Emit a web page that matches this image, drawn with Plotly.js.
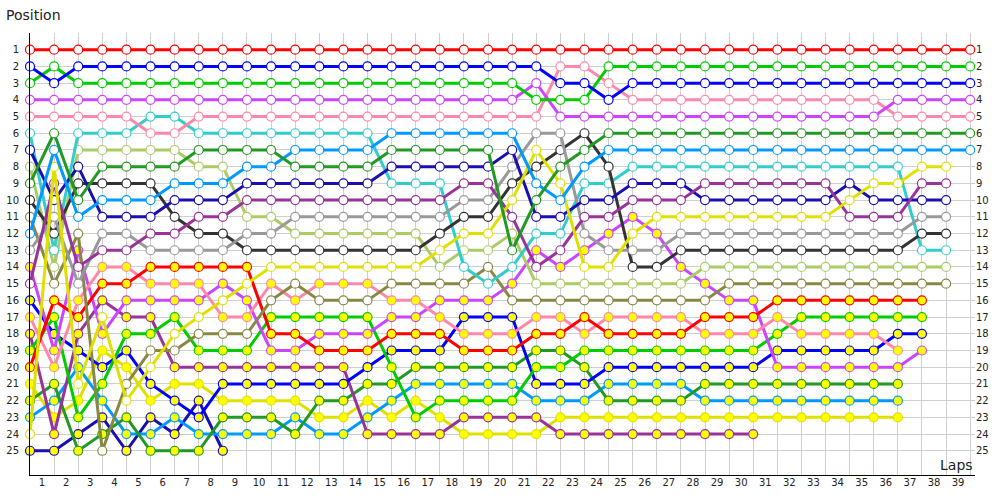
<!DOCTYPE html>
<html><head><meta charset="utf-8">
<script src="https://cdn.plot.ly/plotly-3.0.1.min.js"></script>
<style>html,body{margin:0;padding:0;background:#fff}#chart{width:1000px;height:500px}</style>
</head><body><div id="chart"></div>
<script>
// Columns: index 0 = grid, index k = after lap k
const lapLabels = ['1','2','3','4','5','6','7','8','9','10','11','12','13','14','15','16','17','18','19','20','21','22','23','24','25','26','27','28','29','30','31','32','33','34','35','36','37','38','39'];
const posLabels = ['1','2','3','4','5','6','7','8','9','10','11','12','13','14','15','16','17','18','19','20','21','22','23','24','25'];
const _ = null;

const red1 = [1,1,1,1,1,1,1,1,1,1, 1,1,1,1,1,1,1,1,1,1, 1,1,1,1,1,1,1,1,1,1, 1,1,1,1,1,1,1,1,1,1];
const green1 = [3,2,3,3,3,3,3,3,3,3, 3,3,3,3,3,3,3,3,3,3, 3,4,4,4,2,2,2,2,2,2, 2,2,2,2,2,2,2,2,2,2];
const blue1 = [2,3,2,2,2,2,2,2,2,2, 2,2,2,2,2,2,2,2,2,2, 2,2,3,3,4,3,3,3,3,3, 3,3,3,3,3,3,3,3,3,3];
const magenta1 = [4,4,4,4,4,4,4,4,4,4, 4,4,4,4,4,4,4,4,4,4, 4,3,5,5,5,5,5,5,5,5, 5,5,5,5,5,5,4,4,4,4];
const pink1 = [5,5,5,5,5,6,6,5,5,5, 5,5,5,5,5,5,5,5,5,5, 5,5,2,2,3,4,4,4,4,4, 4,4,4,4,4,4,5,5,5,5];
const darkgreen1 = [9,6,10,8,8,8,8,7,7,7, 7,8,8,8,8,7,7,7,7,7, 13,10,8,7,6,6,6,6,6,6, 6,6,6,6,6,6,6,6,6,6];
const lightblue1 = [12,7,11,10,10,10,9,9,9,8, 8,7,7,7,7,6,6,6,6,6, 6,9,10,8,7,7,7,7,7,7, 7,7,7,7,7,7,7,7,7,7];
const yellow1 = [24,8,21,17,22,20,18,17,16,15, 14,14,14,14,14,14,14,13,12,12, 10,7,9,14,14,12,11,11,11,11, 11,11,11,11,10,9,9,8,8,_];
const purple1 = [15,9,14,13,13,12,12,11,11,10, 10,10,10,10,10,10,10,10,9,9, 11,14,13,11,11,10,10,10,9,9, 9,9,9,9,11,11,11,9,9,_];
const darkblue1 = [7,10,8,11,11,11,10,10,10,9, 9,9,9,9,9,8,8,8,8,8, 7,11,11,10,10,9,9,9,10,10, 10,10,10,10,9,10,10,10,10,_];
const gray1 = [13,11,15,12,12,13,13,13,13,12, 12,11,11,11,11,11,11,11,10,10, 8,6,6,12,13,13,13,12,12,12, 12,12,12,12,12,12,12,11,11,_];
const darkgray1 = [10,12,9,9,9,9,11,12,12,13, 13,13,13,13,13,13,13,12,11,11, 9,8,7,6,8,14,14,13,13,13, 13,13,13,13,13,13,13,12,12,_];
const cyan1 = [6,13,6,6,6,5,5,6,6,6, 6,6,6,6,6,9,9,9,14,15, 14,12,12,9,9,8,8,8,8,8, 8,8,8,8,8,8,8,13,13,_];
const lightolive1 = [8,14,7,7,7,7,7,8,8,11, 11,12,12,12,12,12,12,14,13,13, 12,15,15,15,15,15,15,15,14,14, 14,14,14,14,14,14,14,14,14,_];
const olive1 = [11,15,12,25,21,19,19,18,18,18, 16,15,16,16,16,15,15,15,15,14, 16,16,16,16,16,16,16,16,16,15, 15,15,15,15,15,15,15,15,15,_];

const red2 = [20,16,17,15,15,14,14,14,14,14, 18,18,19,19,19,18,18,18,19,19, 19,18,18,17,18,18,18,18,17,17, 17,16,16,16,16,16,16,16,_,_];
const pink2 = [17,20,16,14,14,15,15,15,17,17, 15,16,15,15,15,16,16,17,18,18, 18,17,17,18,17,17,17,17,18,18, 18,17,18,18,18,18,19,_,_,_];
const magenta2 = [14,19,13,18,16,16,16,16,15,16, 19,19,18,18,18,17,17,16,16,16, 15,13,14,13,12,11,12,14,15,16, 16,20,20,20,20,20,20,19,_,_];
const green2 = [19,17,23,21,18,18,17,19,19,19, 17,17,17,17,17,20,23,22,22,22, 22,20,20,19,19,19,19,19,19,19, 19,18,17,17,17,17,17,17,_,_];
const blue2 = [16,18,19,20,19,21,22,23,21,21, 21,21,21,21,20,19,19,19,17,17, 17,21,21,21,20,20,20,20,20,20, 20,19,19,19,19,19,18,18,_,_];
const purple2 = [18,24,18,16,17,17,20,20,20,20, 20,20,20,20,24,24,24,24,23,23, 23,23,24,24,24,24,24,24,24,24, 24,_,_,_,_,_,_,_,_,_];
const darkgreen2 = [22,21,25,24,23,25,25,25,23,23, 23,24,22,22,21,21,20,20,20,20, 20,19,19,20,22,22,22,22,21,21, 21,21,21,21,21,21,21,_,_,_];
const lightblue2 = [23,22,20,22,24,24,23,24,24,24, 24,23,24,24,23,22,21,21,21,21, 21,22,22,22,21,21,21,21,22,22, 22,22,22,22,22,22,22,_,_,_];
const yellow2 = [21,23,22,19,20,22,21,21,22,22, 22,22,23,23,22,23,22,23,24,24, 24,24,23,23,23,23,23,23,23,23, 23,23,23,23,23,23,23,_,_,_];
const darkblue2 = [25,25,24,23,25,23,24,22,25,_, _,_,_,_,_,_,_,_,_,_, _,_,_,_,_,_,_,_,_,_, _,_,_,_,_,_,_,_,_,_];

// series list: [values, line colour, marker fill]
const WHITE = '#ffffff', YEL = '#ffff00';
const series = [
  [darkblue2,'#1a0fb0',YEL],[yellow2,'#e0e000',YEL],[lightblue2,'#0099ff',YEL],[darkgreen2,'#229922',YEL],
  [purple2,'#993399',YEL],[blue2,'#0000ff',YEL],[green2,'#00cc00',YEL],[magenta2,'#cc44ff',YEL],
  [pink2,'#ff88aa',YEL],[red2,'#ff0000',YEL],
  [olive1,'#888844',WHITE],[lightolive1,'#aacc66',WHITE],[cyan1,'#33cccc',WHITE],[darkgray1,'#333333',WHITE],
  [gray1,'#999999',WHITE],[darkblue1,'#1a0fb0',WHITE],[purple1,'#993399',WHITE],[yellow1,'#e0e000',WHITE],
  [lightblue1,'#0099ff',WHITE],[darkgreen1,'#229922',WHITE],[pink1,'#ff88aa',WHITE],[magenta1,'#cc44ff',WHITE],
  [green1,'#00cc00',WHITE],[blue1,'#0000ff',WHITE],[red1,'#ff0000',WHITE]
];

const cols = red1.map((v,i)=>i);
const traces = series.map(([vals,col,fill])=>({
  type:'scatter', mode:'lines+markers', x: cols, y: vals, cliponaxis:false,
  connectgaps:false, hoverinfo:'skip',
  line:{color:col,width:3},
  marker:{size:9,color:fill,line:{color:col,width:1.2}}
}));
traces.push({type:'scatter',x:[0],y:[1],xaxis:'x2',yaxis:'y2',mode:'markers',marker:{opacity:0},hoverinfo:'skip',showlegend:false});

const halfVals = lapLabels.map((t,i)=>i+0.5);
const posVals = posLabels.map((t,i)=>i+1);
const tickFont = {family:'DejaVu Sans, Verdana, sans-serif',size:10,color:'#222'};

const layout = {
  width:1000,height:500,showlegend:false,
  paper_bgcolor:'#fff',plot_bgcolor:'#fff',
  margin:{l:30,r:25,t:33,b:25},
  xaxis:{range:[0,39.2],tickmode:'array',tickvals:cols,ticktext:cols.map(()=>''),ticks:'',
    showgrid:true,gridcolor:'#cfcfcf',gridwidth:1,zeroline:false,showline:true,linecolor:'#000',linewidth:1},
  xaxis2:{overlaying:'x',matches:'x',side:'bottom',tickmode:'array',tickvals:halfVals,ticktext:lapLabels,
    ticks:'',showgrid:false,zeroline:false,showline:false,tickfont:tickFont},
  yaxis:{range:[26.45,0],tickmode:'array',tickvals:posVals,ticktext:posLabels,ticks:'outside',ticklen:8,
    tickcolor:'rgba(0,0,0,0)',showgrid:true,gridcolor:'#cfcfcf',gridwidth:1,zeroline:false,showline:true,
    linecolor:'#000',linewidth:1,tickfont:tickFont},
  yaxis2:{overlaying:'y',matches:'y',side:'right',tickmode:'array',tickvals:posVals,ticktext:posLabels,ticks:'',
    showgrid:false,zeroline:false,showline:false,tickfont:tickFont},
  annotations:[
    {text:'Position',xref:'paper',yref:'paper',x:-0.0275,y:1.041,xanchor:'left',yanchor:'middle',showarrow:false,
     font:{family:'DejaVu Sans, Verdana, sans-serif',size:14,color:'#222'}},
    {text:'Laps',xref:'paper',yref:'paper',x:1.0,y:0.0226,xanchor:'right',yanchor:'middle',showarrow:false,
     font:{family:'DejaVu Sans, Verdana, sans-serif',size:14,color:'#222'}}
  ]
};
Plotly.newPlot('chart',traces,layout,{displayModeBar:false,staticPlot:true});
</script></body></html>
